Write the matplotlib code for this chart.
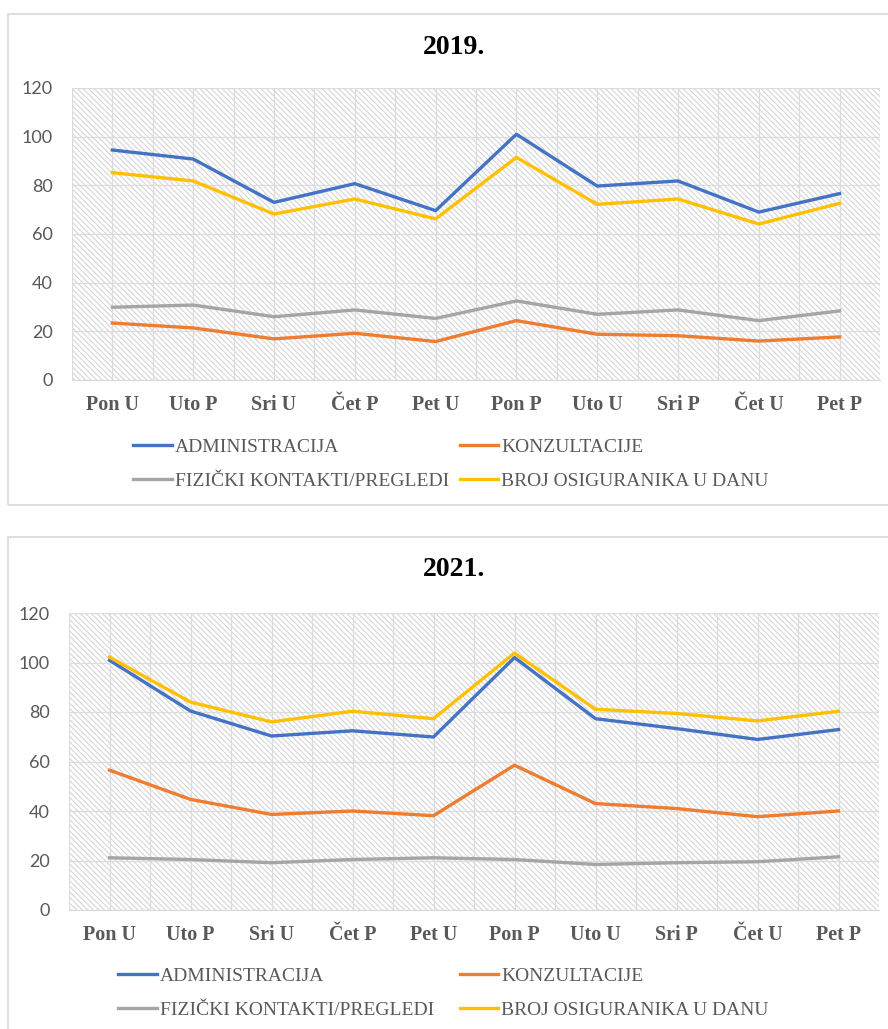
import numpy as np
import matplotlib.pyplot as plt
from matplotlib.patches import Rectangle

# Categories (days, U = morning shift, P = afternoon shift)
days = ["Pon U", "Uto P", "Sri U", "Čet P", "Pet U", "Pon P", "Uto U", "Sri P", "Čet U", "Pet P"]
series_names = ["ADMINISTRACIJA", "KONZULTACIJE", "FIZIČKI KONTAKTI/PREGLEDI", "BROJ OSIGURANIKA U DANU"]
colors = ["#4472C4", "#ED7D31", "#A5A5A5", "#FFC000"]

# 2019.
admin_2019 = [94.5, 90.8, 73, 80.7, 69.6, 101, 79.7, 81.8, 69, 76.6]
konz_2019 = [23.4, 21.4, 16.9, 19.2, 15.8, 24.4, 18.8, 18.2, 16, 17.7]
fiz_2019 = [29.9, 30.8, 26, 28.8, 25.3, 32.5, 27, 28.8, 24.4, 28.4]
broj_2019 = [85.2, 81.8, 68.2, 74.4, 66.2, 91.5, 72.2, 74.4, 64.1, 72.6]

# 2021.
admin_2021 = [100.9, 80.4, 70.3, 72.4, 69.9, 102, 77.3, 73.3, 68.9, 72.9]
konz_2021 = [56.5, 44.7, 38.6, 40, 38.1, 58.5, 43, 41, 37.7, 40]
fiz_2021 = [21.1, 20.4, 19.1, 20.4, 21.1, 20.4, 18.4, 19.1, 19.5, 21.5]
broj_2021 = [102.2, 84, 76, 80.3, 77.3, 103.8, 81.1, 79.4, 76.4, 80.3]

text_gray = "#595959"
grid_gray = "#dcdcdc"
W, H = 888, 1029

plt.rcParams["hatch.linewidth"] = 0.8

fig = plt.figure(figsize=(W / 100, H / 100), dpi=100)

def fx(px):
    return px / W

def fy(py):
    return 1 - py / H

def draw_chart(title, data, ax_box, title_y, leg_x, leg_y, colsp, box):
    # outer chart border
    bx0, by0, bx1, by1 = box
    fig.patches.append(Rectangle((fx(bx0), fy(by1)), fx(bx1 - bx0), (by1 - by0) / H,
                                 transform=fig.transFigure, facecolor="none",
                                 edgecolor="#d9d9d9", lw=1.2, zorder=0))
    left, top, right, bottom = ax_box
    ax = fig.add_axes([fx(left), fy(bottom), fx(right - left), (bottom - top) / H])
    ax.set_facecolor("white")
    ax.add_patch(Rectangle((0, 0), 1, 1, transform=ax.transAxes, facecolor="white",
                           edgecolor="#d6d6d6", hatch="\\" * 6, lw=0, zorder=0))
    x = np.arange(len(days))
    for vals, name, c in zip(data, series_names, colors):
        ax.plot(x, vals, color=c, lw=2.4, label=name, zorder=3, solid_joinstyle="round")
    ax.set_xlim(-0.5, len(days) - 0.5)
    ax.set_ylim(0, 120)
    ax.set_yticks(np.arange(0, 121, 20))
    ax.set_xticks(x)
    ax.set_xticks(np.arange(-0.5, len(days), 1.0), minor=True)
    ax.set_xticklabels(days, fontfamily="Liberation Serif", fontweight="bold",
                       fontsize=14.5, color=text_gray)
    for lab in ax.get_yticklabels():
        lab.set_fontfamily("Lato")
        lab.set_fontsize(13)
        lab.set_color(text_gray)
    ax.tick_params(axis="both", which="both", length=0)
    ax.tick_params(axis="x", pad=11)
    ax.tick_params(axis="y", pad=14)
    ax.grid(True, axis="x", which="both", color=grid_gray, lw=0.9, zorder=1)
    ax.grid(True, axis="y", which="major", color=grid_gray, lw=0.9, zorder=1)
    ax.set_axisbelow(True)
    for s in ["top", "right", "left"]:
        ax.spines[s].set_visible(False)
    ax.spines["bottom"].set_color("#d9d9d9")
    fig.text(fx(454), fy(title_y), title, ha="center", va="center",
             fontfamily="Liberation Serif", fontweight="bold", fontsize=20, color="black")
    handles, labels = ax.get_legend_handles_labels()
    order = [0, 2, 1, 3]
    leg = fig.legend([handles[i] for i in order], [labels[i] for i in order],
                     loc="upper left", bbox_to_anchor=(fx(leg_x), fy(leg_y)),
                     ncol=2, frameon=False, borderpad=0, borderaxespad=0,
                     handlelength=2.0, handletextpad=0.15, columnspacing=colsp,
                     labelspacing=0.85,
                     prop={"family": "Liberation Serif", "size": 14})
    for t in leg.get_texts():
        t.set_color(text_gray)
    return ax

draw_chart("2019.", [admin_2019, konz_2019, fiz_2019, broj_2019],
           (72, 88, 880, 380), 48, 133, 438, 0.54, (8, 14, 900, 505))
draw_chart("2021.", [admin_2021, konz_2021, fiz_2021, broj_2021],
           (69, 613, 879, 910), 570, 118, 967, 1.31, (8, 537, 900, 1040))

fig.savefig("out.png", dpi=100)
